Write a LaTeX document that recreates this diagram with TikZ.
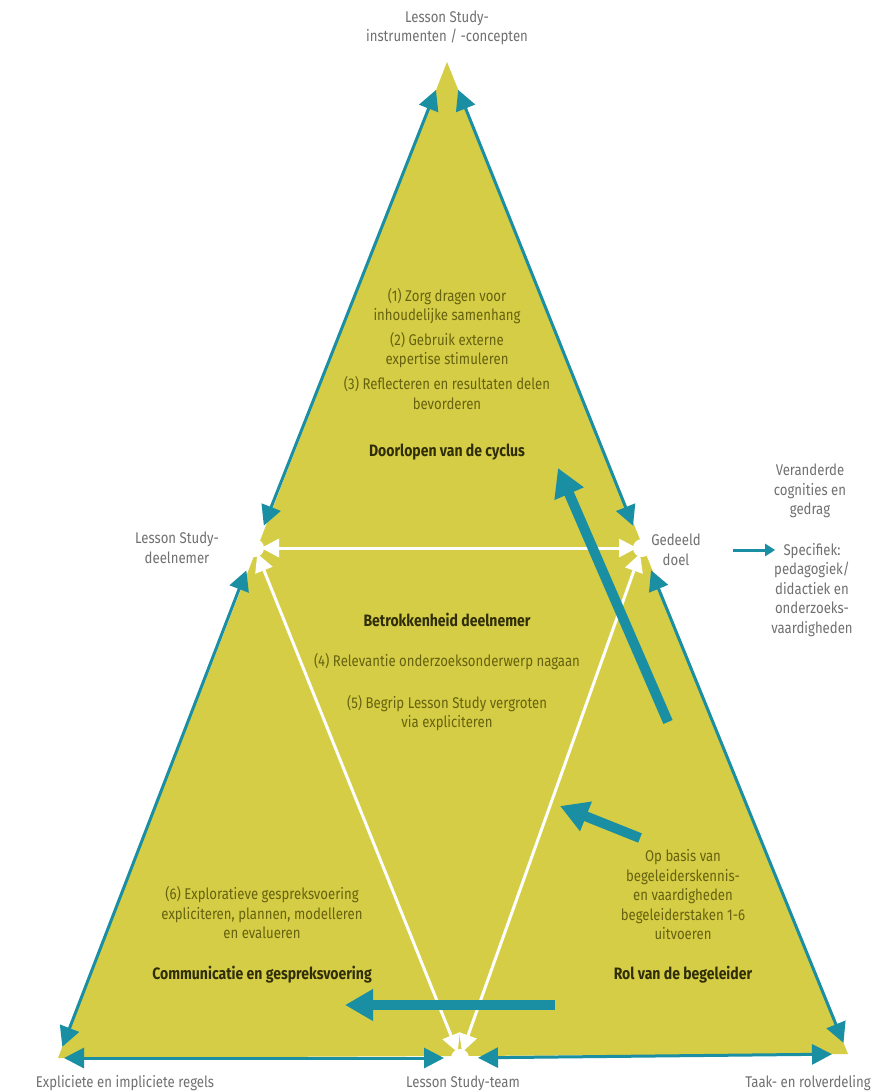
\documentclass[tikz,border=0pt]{standalone}
\usepackage{fontspec}
\setmainfont[FakeStretch=0.85]{Fira Sans}
\usetikzlibrary{arrows.meta}
\definecolor{fieldyellow}{HTML}{D5CD45}
\definecolor{edgeblue}{HTML}{1A8FA3}
\definecolor{olivetext}{HTML}{66620F}
\definecolor{darkolive}{HTML}{302E08}
\definecolor{labelgrey}{HTML}{707070}

\begin{document}
\begin{tikzpicture}[x = 1pt, y = -1pt,
    every node/.style = {align = center, inner sep = 2pt, font = \fontsize{15.5}{19.5}\selectfont},
    corner/.style = {text = labelgrey},
    inner/.style = {text = olivetext},
    title/.style = {text = darkolive, font = \fontsize{16.5}{19.5}\selectfont\bfseries},
    side/.style = {draw = edgeblue, line width = 3pt,
        {Triangle[length = 20pt, width = 20pt]}-{Triangle[length = 20pt, width = 20pt]}},
    link/.style = {draw = white, line width = 3pt,
        {Triangle[length = 18pt, width = 18pt]}-{Triangle[length = 18pt, width = 18pt]}},
    push/.style = {draw = edgeblue, line width = 10pt, -{Triangle[length = 28pt, width = 30pt]}}]
    \useasboundingbox (0,0) rectangle (876,1092);

    % corners of the triangle
    \coordinate (A) at (447,62);
    \coordinate (L) at (255,548);
    \coordinate (R) at (642,548);
    \coordinate (BL) at (58,1058);
    \coordinate (B) at (460,1058);
    \coordinate (BR) at (848,1054);

    \fill[fieldyellow] (A) -- (BL) -- (BR) -- cycle;
    \fill[white] (L) circle (9) (R) circle (9) (B) circle (9);

    % outer edges
    \draw[side, shorten < = 30pt, shorten > = 24pt] (A) -- (L);
    \draw[side, shorten < = 30pt, shorten > = 24pt] (A) -- (R);
    \draw[side, shorten < = 24pt, shorten > = 12pt] (L) -- (BL);
    \draw[side, shorten < = 24pt, shorten > = 12pt] (R) -- (BR);
    \draw[side, shorten < = 6pt, shorten > = 16pt] (BL) -- (B);
    \draw[side, shorten < = 18pt, shorten > = 16pt] (B) -- (BR);

    % inner triangle
    \draw[link, shorten < = 6pt, shorten > = 5pt] (L) -- (R);
    \draw[link, shorten < = 6pt, shorten > = 6pt] (L) -- (B);
    \draw[link, shorten < = 6pt, shorten > = 6pt] (R) -- (B);

    % corner labels
    \node[corner] (tools) at (447,28) {Lesson Study-\\instrumenten / -concepten};
    \node[corner] (member) at (177,548) {Lesson Study-\\deelnemer};
    \node[corner] (doel) at (676,550) {Gedeeld\\doel};
    \node[corner] (rules) at (125,1083) {Expliciete en impliciete regels};
    \node[corner] (team) at (463,1083) {Lesson Study-team};
    \node[corner] (roles) at (808,1083) {Taak- en rolverdeling};
    \node[corner] (change) at (810,491) {Veranderde\\cognities en\\gedrag};
    \node[corner] (spec) at (812,590) {Specifiek:\\pedagogiek/\\didactiek en\\onderzoeks-\\vaardigheden};
    \draw[edgeblue, line width = 3pt, -{Triangle[length = 10pt, width = 12pt]},
        shorten < = 30pt, shorten > = -6pt] (doel.east) -- (doel.east -| spec.west);

    % top field
    \node[inner] (t1) at (447,306) {(1) Zorg dragen voor\\inhoudelijke samenhang};
    \node[inner] (t2) at (447,350) {(2) Gebruik externe\\expertise stimuleren};
    \node[inner] (t3) at (447,393) {(3) Reflecteren en resultaten delen\\bevorderen};
    \node[title] (cycle) at (447,452) {Doorlopen van de cyclus};

    % middle field
    \node[title] (engage) at (447,620) {Betrokkenheid deelnemer};
    \node[inner] (t4) at (447,662) {(4) Relevantie onderzoeksonderwerp nagaan};
    \node[inner] (t5) at (447,713) {(5) Begrip Lesson Study vergroten\\via expliciteren};

    % left field
    \node[inner] (t6) at (262,913) {(6) Exploratieve gespreksvoering\\expliciteren, plannen, modelleren\\en evalueren};
    \node[title] (talk) at (262,975) {Communicatie en gespreksvoering};

    % right field
    \node[inner] (coach) at (683,895) {Op basis van\\begeleiderskennis-\\en vaardigheden\\begeleiderstaken 1-6\\uitvoeren};
    \node[title] (role) at (683,975) {Rol van de begeleider};

    % influence of the coach
    \coordinate (p1) at (668,722);
    \coordinate (q1) at (558,468);
    \coordinate (p2) at (640,838);
    \coordinate (q2) at (560,806);
    \coordinate (p3) at (555,1005);
    \coordinate (q3) at (345,1005);
    \draw[push] (p1) -- (q1);
    \draw[push] (p2) -- (q2);
    \draw[push] (p3) -- (q3);
\end{tikzpicture}
\end{document}
